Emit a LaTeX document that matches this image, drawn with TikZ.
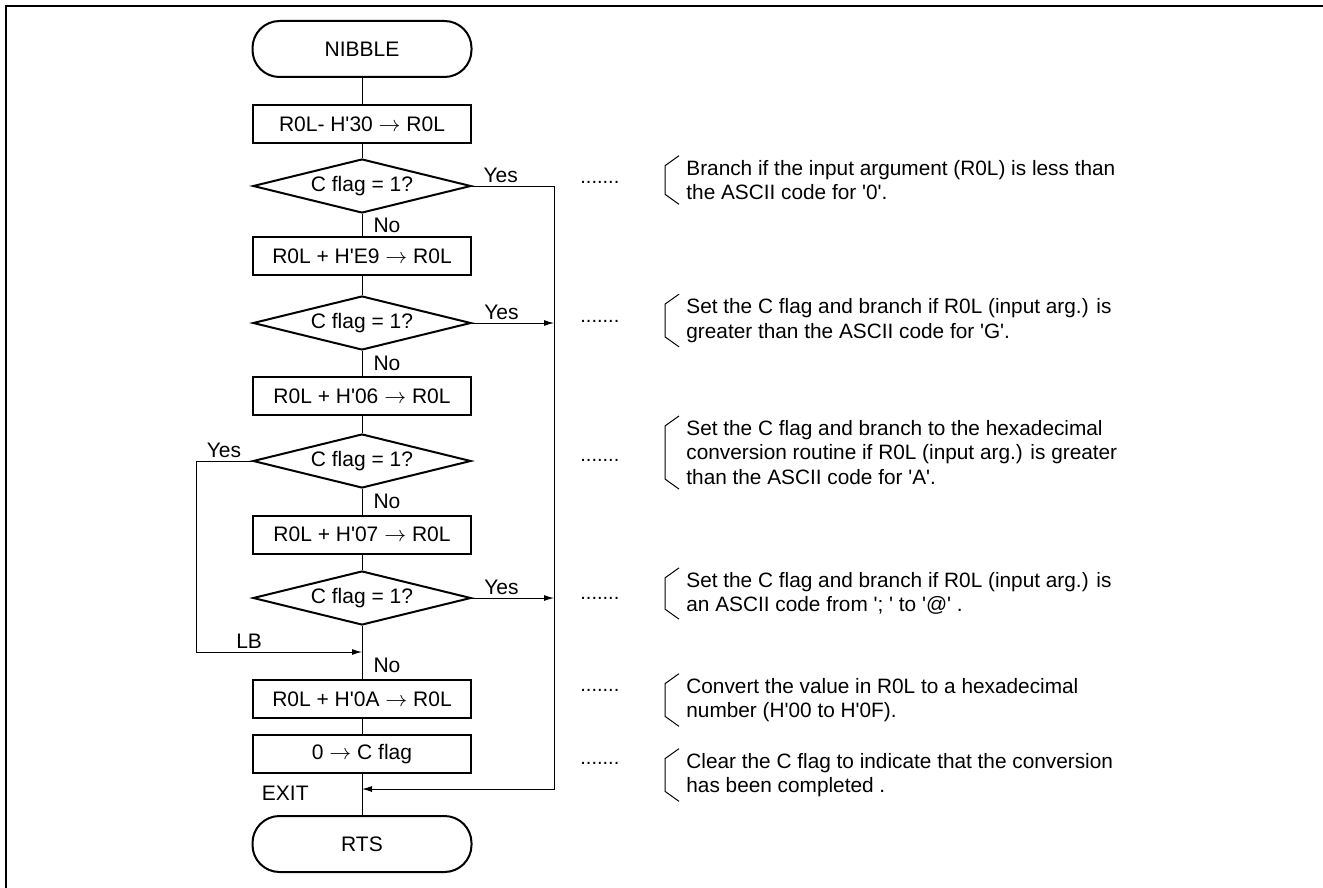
\documentclass[tikz,border=0pt]{standalone}
\usepackage{fontspec}
\setmainfont{Liberation Sans}[Ligatures=TeXOff]
\usetikzlibrary{
  arrows.meta, % for the Latex arrow tip
  shapes.geometric, % for the decision diamonds
  positioning, % for relative placement of the labels
}
\tikzset{
  block/.style={ % common look of the flowchart blocks
    draw,line width=1pt, % drawn with a thick outline
    inner sep=0pt, % sizes are given by the minimum sizes below
    font=\fontsize{10.5}{12.25}\selectfont,
  },
  terminal/.style={ % start and end of the routine
    block,rectangle,rounded corners=13.5pt,
    minimum width=109.5pt,minimum height=28pt,
  },
  process/.style={ % one instruction
    block,rectangle,
    minimum width=109pt,minimum height=19pt,
  },
  decision/.style={ % test of the carry flag
    block,diamond,aspect=4,
    minimum width=109pt,minimum height=27pt,
  },
  line/.style={ % plain connector
    draw,line width=0.5pt,
  },
  conn/.style={ % connector ending in an arrow
    line,-{Latex[length=5pt,width=3pt]},
  },
  lbl/.style={ % Yes / No / LB / EXIT
    font=\fontsize{10.5}{12}\selectfont,inner sep=1.5pt,
  },
  dots/.style={ % dotted leader towards the notes
    font=\fontsize{10}{12}\selectfont,inner sep=0pt,anchor=base west,
  },
  note/.style={ % comment text on the right
    font=\fontsize{10.4}{12.25}\selectfont,align=left,anchor=west,
    inner xsep=0pt,inner ysep=2pt,
  },
}
% bracket on the left side of a note
\newcommand{\notebracket}[1]{%
  \draw[line width=0.5pt] ([xshift=-3.5pt]#1.north west) -- ++(-7pt,-5pt)
    -- ([xshift=-10.5pt,yshift=5pt]#1.south west) -- ([xshift=-3.5pt]#1.south west);}

\begin{document}
\begin{tikzpicture}[x=0.5pt,y=-0.5pt]
	\useasboundingbox (0,0) rectangle (1323,888);
	\draw[line width=1pt] (6,888) -- (6,6) -- (1323,6);
	
	\node[terminal] (start) at (362,49) {NIBBLE};
	
	\node[process, node distance=37.5pt, below of=start] (sub30) {R0L- H'30 $\rightarrow$ R0L};
	
	\node[decision, node distance=31pt, below of=sub30] (chk0) {C flag = 1?};
	
	\node[process, node distance=35pt, below of=chk0] (addE9) {R0L + H'E9 $\rightarrow$ R0L};
	
	\node[decision, node distance=33.5pt, below of=addE9] (chkG) {C flag = 1?};
	
	\node[process, node distance=36.5pt, below of=chkG] (add06) {R0L + H'06 $\rightarrow$ R0L};
	
	\node[decision, node distance=32.5pt, below of=add06] (chkA) {C flag = 1?};
	
	\node[process, node distance=36.75pt, below of=chkA] (add07) {R0L + H'07 $\rightarrow$ R0L};
	
	\node[decision, node distance=31.75pt, below of=add07] (chkAt) {C flag = 1?};
	
	\node[process, node distance=50.5pt, below of=chkAt] (add0A) {R0L + H'0A $\rightarrow$ R0L};
	
	\node[process, node distance=27.5pt, below of=add0A] (clrC) {0 $\rightarrow$ C flag};
	
	\node[terminal, node distance=45pt, below of=clrC] (rts) {RTS};
	
	\coordinate (lb) at (362,652);
	\coordinate (exit) at (362,789);
	
	% main flow
	\draw[line] (start) -- (sub30) -- (chk0);
	\draw[line] (chk0) -- node[lbl,right,xshift=4pt] (no0) {No} (addE9);
	\draw[line] (addE9) -- (chkG);
	\draw[line] (chkG) -- node[lbl,right,xshift=4pt] (noG) {No} (add06);
	\draw[line] (add06) -- (chkA);
	\draw[line] (chkA) -- node[lbl,right,xshift=4pt] (noA) {No} (add07);
	\draw[line] (add07) -- (chkAt) -- (lb);
	\draw[line] (lb) -- node[lbl,right,xshift=4pt] (noAt) {No} (add0A);
	\draw[line] (add0A) -- (clrC) -- (rts);
	
	% branches
	\draw[conn] (chk0.east) -- node[lbl,above,pos=0.35] (yes0) {Yes} ++(41pt,0) coordinate (rt) |- (exit);
	\draw[conn] (chkG.east) -- node[lbl,above,pos=0.36] (yesG) {Yes} (chkG.east -| rt);
	\draw[conn] (chkAt.east) -- node[lbl,above,pos=0.36] (yesAt) {Yes} (chkAt.east -| rt);
	\draw[conn] (chkA.west) -- node[lbl,above] (yesA) {Yes} ++(-28pt,0)
		|- node[lbl,above,pos=0.66] (lbtxt) {LB} (lb);
	\node[lbl, left=25pt of exit, yshift=-2pt] (exittxt) {EXIT};
	
	% notes
	\node[dots] (dot0) at (580,184) {.......};
	\node[dots] (dotG) at (580,322) {.......};
	\node[dots] (dotA) at (580,461) {.......};
	\node[dots] (dotAt) at (580,599) {.......};
	\node[dots] (dot0A) at (580,691) {.......};
	\node[dots] (dotC) at (580,764) {.......};
	
	\node[note] (note0) at (686,180) {Branch if the input argument (R0L) is less than\\the ASCII code for '0'.};
	\node[note] (noteG) at (686,320.5) {Set the C flag and branch if R0L (input arg.) is\\greater than the ASCII code for 'G'.};
	\node[note] (noteA) at (686,452.5) {Set the C flag and branch to the hexadecimal\\conversion routine if R0L (input arg.) is greater\\than the ASCII code for 'A'.};
	\node[note] (noteAt) at (686,593.5) {Set the C flag and branch if R0L (input arg.) is\\an ASCII code from '; ' to '@' .};
	\node[note] (note0A) at (686,700) {Convert the value in R0L to a hexadecimal\\number (H'00 to H'0F).};
	\node[note] (noteC) at (686,775) {Clear the C flag to indicate that the conversion\\has been completed .};
	
	\foreach \n in {note0,noteG,noteA,noteAt,note0A,noteC}
		\notebracket{\n};
\end{tikzpicture}
\end{document}
